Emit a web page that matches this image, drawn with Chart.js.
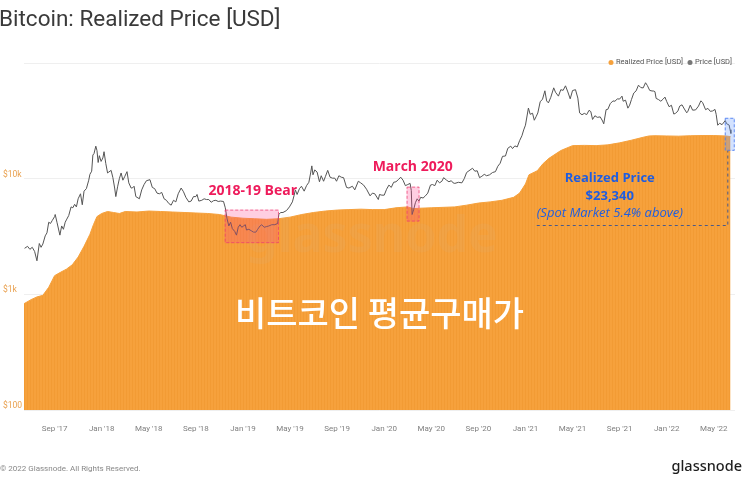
<!DOCTYPE html>
<html>
<head>
<meta charset="utf-8">
<script src="https://cdn.jsdelivr.net/npm/chart.js@4.4.1/dist/chart.umd.min.js"></script>
<style>
  html, body { margin: 0; padding: 0; background: #fff; }
  canvas { display: block; }
</style>
</head>
<body>
<canvas id="chart" width="743" height="478"></canvas>
<script>
// x values are months counted from Jan 2017 (12 = Jan '18 ...)
const tickMonths = [8, 12, 16, 20, 24, 28, 32, 36, 40, 44, 48, 52, 56, 60, 64];
const tickLabels = ["Sep '17", "Jan '18", "May '18", "Sep '18", "Jan '19", "May '19", "Sep '19",
  "Jan '20", "May '20", "Sep '20", "Jan '21", "May '21", "Sep '21", "Jan '22", "May '22"];
const yTicks = [100, 1000, 10000, 100000];
const yLabels = ['$100', '$1k', '$10k', ''];

const realizedPoints = [
  [5.4, 830], [6.0, 900], [6.5, 950], [7.0, 980], [7.5, 1150], [8.0, 1450], [8.5, 1550],
  [9.0, 1650], [9.5, 1800], [10.0, 2100], [10.5, 2600], [11.0, 3300], [11.3, 4000], [11.6, 4700],
  [12.0, 5000], [12.5, 5200], [13.0, 5100], [13.5, 5000], [14.0, 5200], [15.0, 5150], [16.0, 5250],
  [17.0, 5200], [18.0, 5150], [19.0, 5100], [20.0, 5050], [21.0, 5000], [22.0, 4900], [23.0, 4650],
  [24.0, 4550], [25.0, 4500], [26.0, 4450], [27.0, 4500], [28.0, 4650], [29.0, 4900], [30.0, 5100],
  [31.0, 5250], [32.0, 5350], [33.0, 5400], [34.0, 5450], [35.0, 5400], [36.0, 5400], [37.0, 5600],
  [38.0, 5700], [38.5, 5500], [39.0, 5550], [40.0, 5600], [41.0, 5650], [42.0, 5700], [43.0, 5900],
  [44.0, 6150], [45.0, 6300], [46.0, 6500], [47.0, 6900], [47.5, 7500], [48.0, 9000], [48.3, 10800],
  [49.0, 11700], [49.5, 13500], [50.0, 15000], [51.0, 17500], [52.0, 19300], [53.0, 19400],
  [54.0, 19300], [55.0, 19600], [56.0, 20400], [57.0, 21500], [58.0, 22800], [58.5, 23400],
  [59.0, 23500], [60.0, 23400], [61.0, 23300], [62.0, 23500], [63.0, 23600], [64.0, 23600],
  [65.0, 23400], [65.42, 23100]
];

const pricePoints = [
  [5.45, 2500], [5.7, 2600], [5.9, 2450], [6.1, 2550], [6.3, 2350], [6.5, 1950], [6.7, 2750], [6.85, 2550],
  [7.0, 2720], [7.2, 3200], [7.35, 3400], [7.5, 4200], [7.65, 4100], [7.8, 4350], [8.0, 4700], [8.05, 4900],
  [8.2, 4200], [8.45, 3250], [8.6, 3900], [8.75, 3650], [8.9, 4200], [9.0, 4400], [9.2, 4800], [9.4, 5700],
  [9.55, 5600], [9.7, 6000], [9.85, 5700], [10.0, 6700], [10.2, 7400], [10.35, 5950], [10.5, 7800],
  [10.7, 8200], [10.9, 9700], [11.0, 10900], [11.15, 11600], [11.25, 16000], [11.35, 16500], [11.5, 19100],
  [11.6, 17500], [11.7, 13800], [11.8, 15800], [11.95, 14100], [12.1, 15100], [12.2, 17100], [12.35, 13500],
  [12.5, 11200], [12.6, 11400], [12.8, 11800], [12.95, 10200], [13.1, 8300], [13.2, 7000], [13.35, 8500],
  [13.5, 10000], [13.65, 11200], [13.8, 9700], [13.95, 10400], [14.15, 11500], [14.3, 9200], [14.5, 8300],
  [14.6, 8300], [14.75, 8600], [14.9, 7000], [15.0, 6900], [15.2, 6700], [15.4, 8000], [15.6, 8900],
  [15.8, 9600], [16.1, 9800], [16.3, 8400], [16.5, 8200], [16.7, 7500], [16.9, 7400], [17.1, 7600],
  [17.3, 6700], [17.5, 6500], [17.7, 6100], [17.9, 5900], [18.1, 6500], [18.3, 6300], [18.5, 7400],
  [18.75, 8300], [18.95, 7700], [19.15, 6900], [19.4, 6300], [19.6, 6400], [19.8, 7000], [20.0, 7000],
  [20.1, 7300], [20.25, 6400], [20.5, 6500], [20.7, 6700], [20.9, 6600], [21.1, 6600], [21.3, 6250],
  [21.5, 6450], [21.7, 6500], [21.9, 6350], [22.1, 6400], [22.35, 6350], [22.5, 5600], [22.65, 4500],
  [22.8, 3900], [22.95, 4200], [23.1, 3700], [23.3, 3500], [23.45, 3250], [23.6, 3800], [23.75, 4000],
  [23.9, 3800], [24.05, 3900], [24.2, 4000], [24.3, 3600], [24.5, 3650], [24.7, 3550], [24.9, 3450],
  [25.1, 3450], [25.25, 3650], [25.45, 3900], [25.6, 4000], [25.8, 3800], [26.0, 3850], [26.2, 3900],
  [26.45, 4000], [26.7, 4000], [26.95, 4100], [27.05, 4900], [27.2, 5100], [27.4, 5100], [27.7, 5300],
  [27.95, 5700], [28.2, 6300], [28.35, 7200], [28.45, 8000], [28.6, 7300], [28.8, 8200], [28.97, 8600],
  [29.2, 7800], [29.4, 8700], [29.6, 9300], [29.75, 11200], [29.85, 12900], [29.95, 10800], [30.1, 11900],
  [30.3, 11400], [30.5, 9400], [30.65, 10600], [30.85, 9500], [31.0, 10400], [31.2, 11800], [31.4, 10300],
  [31.6, 10100], [31.8, 10100], [31.95, 9500], [32.15, 10600], [32.35, 10300], [32.55, 10200], [32.8, 8400],
  [33.0, 8300], [33.3, 8600], [33.5, 8000], [33.8, 9500], [34.0, 9200], [34.25, 8800], [34.5, 8100],
  [34.8, 7100], [35.0, 7500], [35.2, 7400], [35.5, 6600], [35.6, 7300], [35.8, 7200], [36.0, 7200],
  [36.2, 8100], [36.4, 8800], [36.6, 8400], [36.8, 9300], [37.0, 9400], [37.2, 9800], [37.4, 10300],
  [37.6, 9700], [37.8, 8700], [38.0, 8900], [38.2, 9100], [38.3, 7900], [38.37, 4900], [38.5, 5400],
  [38.65, 6200], [38.8, 6700], [38.95, 6400], [39.1, 6900], [39.3, 6800], [39.5, 7100], [39.7, 7500],
  [39.93, 8800], [40.1, 8900], [40.3, 8700], [40.5, 9700], [40.7, 9200], [40.9, 9500], [41.05, 10200],
  [41.3, 9700], [41.5, 9400], [41.7, 9600], [41.85, 9200], [42.0, 9100], [42.3, 9300], [42.6, 9200],
  [42.8, 10000], [43.0, 11300], [43.2, 11700], [43.5, 12300], [43.7, 11600], [43.9, 11700], [44.1, 10200],
  [44.3, 10500], [44.5, 10900], [44.7, 10600], [44.95, 10800], [45.2, 11300], [45.45, 11500], [45.65, 12800],
  [45.85, 13600], [46.05, 15600], [46.3, 15700], [46.5, 18300], [46.75, 19100], [46.9, 18200], [47.1, 19200],
  [47.3, 18800], [47.5, 21300], [47.7, 23500], [47.85, 26400], [48.0, 29000], [48.25, 40800], [48.4, 36000],
  [48.6, 36800], [48.75, 32000], [48.9, 34300], [49.05, 37000], [49.25, 46200], [49.45, 48700], [49.65, 57500],
  [49.8, 47000], [49.95, 45200], [50.15, 50500], [50.4, 61000], [50.55, 55900], [50.8, 51700], [51.0, 58800],
  [51.2, 58000], [51.4, 63500], [51.6, 56200], [51.8, 49000], [52.0, 57800], [52.25, 58800], [52.45, 49700],
  [52.6, 37000], [52.8, 35700], [53.0, 36700], [53.2, 35800], [53.4, 39000], [53.55, 38000], [53.7, 32500],
  [53.9, 35000], [54.1, 33900], [54.35, 34200], [54.55, 31500], [54.65, 29800], [54.85, 39500], [55.0, 39800],
  [55.2, 44500], [55.43, 47000], [55.6, 46700], [55.8, 48900], [56.0, 48800], [56.2, 51700], [56.3, 46700],
  [56.5, 47700], [56.7, 40700], [56.85, 43200], [57.0, 48200], [57.2, 55000], [57.4, 57400], [57.6, 64300],
  [57.8, 61300], [58.0, 60900], [58.2, 67500], [58.35, 64000], [58.55, 58000], [58.75, 57300], [58.9, 57200],
  [59.0, 56500], [59.1, 49400], [59.3, 48300], [59.5, 46700], [59.7, 48800], [59.85, 50700], [60.0, 46400],
  [60.2, 41900], [60.4, 43100], [60.6, 36200], [60.75, 36700], [60.95, 38500], [61.1, 42400], [61.3, 43500],
  [61.5, 40000], [61.7, 37100], [61.8, 38300], [62.0, 43200], [62.2, 39100], [62.45, 39300], [62.7, 42400],
  [62.9, 47100], [63.05, 45500], [63.3, 39500], [63.5, 40500], [63.7, 38200], [63.9, 38500], [64.1, 39700],
  [64.2, 36000], [64.33, 29000], [64.5, 30100], [64.7, 29300], [64.97, 31800], [65.1, 29800], [65.3, 29100],
  [65.38, 26500], [65.45, 24600]
];

const ORANGE = '#f6a13c';

// faint vertical stripes like the original area fill
function stripePattern() {
  const c = document.createElement('canvas');
  c.width = 3; c.height = 8;
  const g = c.getContext('2d');
  g.fillStyle = ORANGE; g.fillRect(0, 0, 3, 8);
  g.fillStyle = '#f29b34'; g.fillRect(0, 0, 1, 8);
  return g.createPattern(c, 'repeat');
}

const extras = {
  id: 'extras',
  beforeDraw(chart) {
    const ctx = chart.ctx;
    ctx.save();
    ctx.fillStyle = '#fff';
    ctx.fillRect(0, 0, chart.width, chart.height);
    ctx.restore();
  },
  afterDatasetsDraw(chart) {
    const ctx = chart.ctx, x = chart.scales.x, y = chart.scales.y;
    const px = v => x.getPixelForValue(v), py = v => y.getPixelForValue(v);
    ctx.save();

    // watermark
    ctx.font = 'bold 50px "Noto Sans", sans-serif';
    ctx.fillStyle = 'rgba(190,190,190,0.08)';
    ctx.textAlign = 'center'; ctx.textBaseline = 'middle';
    ctx.fillText('glassnode', 372, 238);

    const box = (x0, x1, y0, y1, fill, stroke) => {
      const l = px(x0), r = px(x1), t = py(y1), b = py(y0);
      ctx.fillStyle = fill; ctx.fillRect(l, t, r - l, b - t);
      ctx.setLineDash([3, 2]); ctx.lineWidth = 1; ctx.strokeStyle = stroke;
      ctx.strokeRect(l + 0.5, t + 0.5, r - l - 1, b - t - 1);
      ctx.setLineDash([]);
    };
    box(22.45, 27.06, 2770, 5400, 'rgba(255,60,140,0.25)', 'rgba(235,60,110,0.7)');
    box(37.9, 39.0, 4260, 8530, 'rgba(255,60,140,0.25)', 'rgba(235,60,110,0.7)');
    box(64.93, 65.78, 17400, 33600, 'rgba(110,160,255,0.3)', 'rgba(70,120,240,0.8)');

    // dashed guide for realized price note
    ctx.setLineDash([3, 3]); ctx.strokeStyle = '#4a5a8a'; ctx.lineWidth = 1;
    ctx.beginPath();
    ctx.moveTo(px(48.96), Math.round(py(3940)) + 0.5);
    ctx.lineTo(px(65.19), Math.round(py(3940)) + 0.5);
    ctx.lineTo(px(65.19), py(17400));
    ctx.stroke();
    ctx.setLineDash([]);

    ctx.textAlign = 'center'; ctx.textBaseline = 'middle';
    ctx.fillStyle = '#ee1b5b';
    ctx.font = 'bold 14px "Open Sans", sans-serif';
    ctx.fillText('2018-19 Bear', px(24.83), py(7770));
    ctx.fillText('March 2020', px(38.42), py(12500));

    ctx.fillStyle = '#1f5de0';
    ctx.font = 'bold 13px "Open Sans", sans-serif';
    ctx.fillText('Realized Price', px(55.16), py(10000));
    ctx.fillText('$23,340', px(55.16), py(6990));
    ctx.font = 'italic 13px "Open Sans", sans-serif';
    ctx.fillText('(Spot Market 5.4% above)', px(55.16), py(5000));

    ctx.fillStyle = '#fff';
    ctx.font = '500 34px "Noto Sans CJK KR", sans-serif';
    ctx.fillText('비트코인 평균구매가', px(35.6), py(686));

    // title
    ctx.textAlign = 'left'; ctx.textBaseline = 'alphabetic';
    ctx.fillStyle = '#3a3a3a';
    ctx.font = '22.5px Roboto, sans-serif';
    ctx.fillText('Bitcoin: Realized Price [USD]', -1, 26);

    // legend
    ctx.font = '7.5px Roboto, sans-serif';
    ctx.textBaseline = 'middle';
    ctx.fillStyle = ORANGE;
    ctx.beginPath(); ctx.arc(611, 62.5, 2.5, 0, Math.PI * 2); ctx.fill();
    ctx.fillStyle = '#555';
    ctx.fillText('Realized Price [USD]', 616, 62.5);
    ctx.fillStyle = '#777';
    ctx.beginPath(); ctx.arc(690, 62.5, 2.5, 0, Math.PI * 2); ctx.fill();
    ctx.fillStyle = '#555';
    ctx.fillText('Price [USD]', 695, 62.5);

    // footer
    ctx.fillStyle = '#888';
    ctx.font = '8px Roboto, sans-serif';
    ctx.fillText('\u00a9 2022 Glassnode. All Rights Reserved.', 0, 469);
    ctx.textAlign = 'right';
    ctx.fillStyle = '#1e1e1e';
    ctx.font = '500 14.5px "Noto Sans", sans-serif';
    ctx.fillText('glassnode', 742, 467);
    ctx.restore();
  }
};

new Chart(document.getElementById('chart'), {
  type: 'line',
  data: {
    datasets: [
      {
        label: 'Price [USD]',
        data: pricePoints.map(p => ({ x: p[0], y: p[1] })),
        borderColor: '#555',
        borderWidth: 1,
        pointRadius: 0,
        fill: false
      },
      {
        label: 'Realized Price [USD]',
        data: realizedPoints.map(p => ({ x: p[0], y: p[1] })),
        borderColor: ORANGE,
        borderWidth: 1,
        backgroundColor: stripePattern(),
        pointRadius: 0,
        fill: 'start'
      }
    ]
  },
  options: {
    responsive: false,
    animation: false,
    layout: { padding: { top: 63, right: 8, bottom: 46, left: 3 } },
    plugins: { legend: { display: false }, tooltip: { enabled: false } },
    scales: {
      x: {
        type: 'linear',
        min: 5.4,
        max: 65.8,
        afterBuildTicks: s => { s.ticks = tickMonths.map(v => ({ value: v })); },
        afterFit: s => { s.height = 22; },
        grid: { display: false },
        border: { display: false },
        ticks: {
          font: { family: 'Roboto', size: 8 },
          color: '#808080',
          padding: 6,
          maxRotation: 0,
          callback: v => tickLabels[tickMonths.indexOf(v)]
        }
      },
      y: {
        type: 'logarithmic',
        min: 100,
        max: 100000,
        afterBuildTicks: s => { s.ticks = yTicks.map(v => ({ value: v })); },
        afterFit: s => { s.width = 21; },
        grid: { color: '#efefef', drawTicks: false },
        border: { display: false },
        ticks: {
          font: { family: 'Roboto', size: 8.5 },
          color: '#e9a04e',
          crossAlign: 'far',
          padding: 0,
          labelOffset: -4,
          callback: v => yLabels[yTicks.indexOf(v)]
        }
      }
    }
  },
  plugins: [extras]
});
</script>
</body>
</html>
